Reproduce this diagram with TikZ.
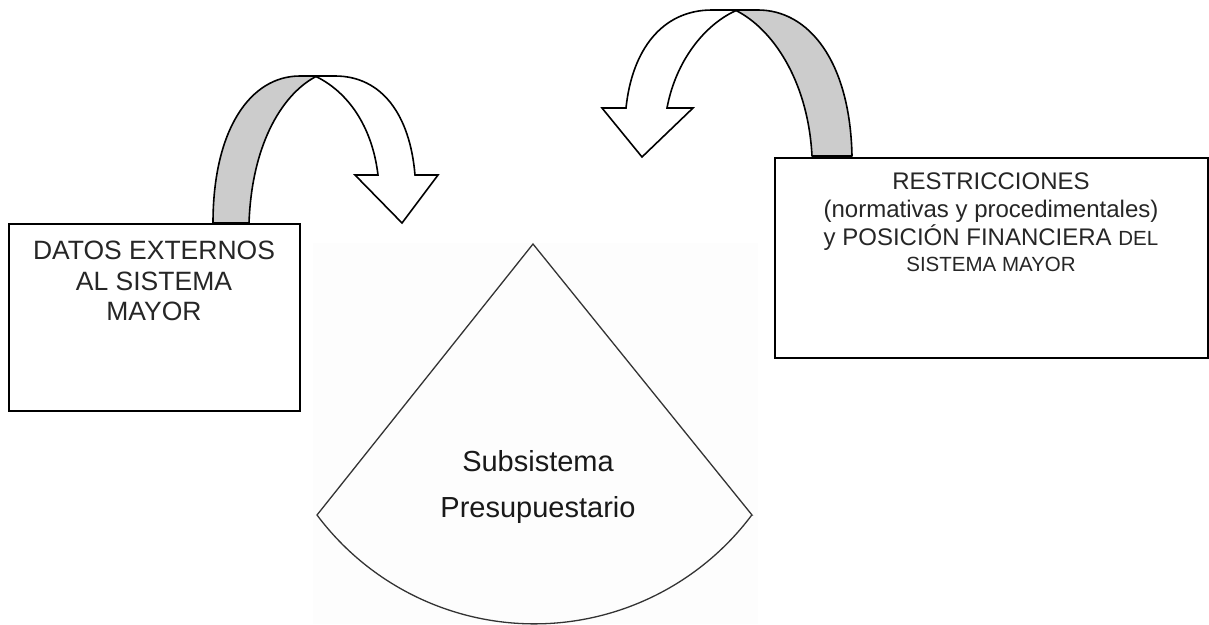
\documentclass[tikz,border=0pt]{standalone}
\usepackage{fontspec}
\setmainfont{Liberation Sans}
\definecolor{ribbongray}{HTML}{CCCCCC}
\definecolor{fanline}{HTML}{333333}
\definecolor{fanbg}{HTML}{FDFDFD}
\begin{document}
\begin{tikzpicture}[x=1pt,y=-1pt,
  boxstyle/.style={draw=black, line width=2pt, fill=white, inner sep=0pt, anchor=north west},
  backband/.style={draw=black, line width=1.6pt, fill=ribbongray, line join=round},
  frontband/.style={draw=black, line width=1.6pt, fill=white, line join=miter},
  labeltext/.style={align=center, inner sep=0pt, anchor=north, text=black!85}]
\useasboundingbox (0,0) rectangle (1209,624);

% faint background of the fan picture
\fill[fanbg] (313,243) rectangle (758,624);

% left curved arrow
\draw[backband] (213,223) .. controls (213,130) and (250,76) .. (300,76) -- (317,76)
  .. controls (285,92) and (252,140) .. (249,223) -- cycle;
\draw[frontband] (317,76) -- (335,76) .. controls (382,76) and (410,115) .. (415,175)
  -- (438,175) -- (402,223) -- (355,175) -- (378,175)
  .. controls (372,125) and (347,92) .. (317,77) -- cycle;

% right curved arrow
\draw[backband] (852,156) .. controls (850,60) and (808,10) .. (758,10) -- (735,10)
  .. controls (772,28) and (808,80) .. (812,156) -- cycle;
\draw[frontband] (735,10) -- (712,10) .. controls (662,10) and (632,50) .. (626,108)
  -- (602,108) -- (642,157) -- (693,108) -- (667,108)
  .. controls (676,60) and (705,25) .. (735,11) -- cycle;

% boxes
\node[boxstyle, minimum width=291pt, minimum height=187pt] (datos) at (8,223) {};
\node[boxstyle, minimum width=433pt, minimum height=200pt] (restr) at (774,157) {};

\node[labeltext, font=\fontsize{26.5}{30.5}\selectfont] (datostxt) at (154,241)
  {DATOS EXTERNOS\\AL SISTEMA\\MAYOR};
\node[labeltext, font=\fontsize{24}{28}\selectfont] (restrtxt) at (991,173)
  {RESTRICCIONES\\(normativas y procedimentales)\\y POSICIÓN FINANCIERA {\fontsize{20.5}{26}\selectfont DEL}\\[-2pt]{\fontsize{20.5}{26}\selectfont SISTEMA MAYOR}};

% fan-shaped subsystem
\coordinate (apex) at (533,244);
\coordinate (fanleft) at (317,515);
\coordinate (fanright) at (752,515);
\draw[fanline, line width=1.3pt, line join=miter] (apex) -- (fanleft)
  arc[start angle=143.2, end angle=36.8, radius=271.5] -- (fanright) -- cycle;
\node[labeltext, font=\fontsize{29}{46}\selectfont, text=black!90] (fantxt) at (538,450)
  {Subsistema\\Presupuestario};
\end{tikzpicture}
\end{document}
